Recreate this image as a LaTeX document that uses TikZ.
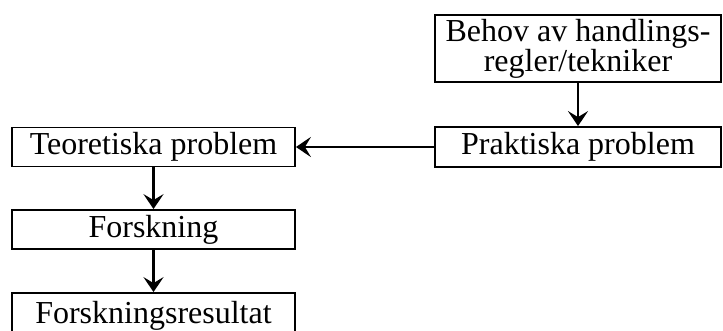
\documentclass[tikz,border=0pt]{standalone}
\usepackage{fontspec}
\setmainfont{Liberation Serif}
\usetikzlibrary{arrows.meta}
\tikzset{
  box/.style={draw, line width=1.8pt, inner sep=0pt, font=\fontsize{32}{29}\selectfont, align=center},
  conn/.style={line width=2.2pt, -{Stealth[length=15pt,width=20pt,inset=6pt]}}
}
\begin{document}
\begin{tikzpicture}[x=1pt,y=-1pt]
\useasboundingbox (0,0) rectangle (723,331);
\clip (0,0) rectangle (723,331);
\node[box, minimum width=286pt, minimum height=67pt] (behov) at (578,48.5) {Behov av handlings-\\regler/tekniker};
\node[box, minimum width=286pt, minimum height=40pt] (prakt) at (578,147) {Praktiska problem};
\node[box, minimum width=283pt, minimum height=39pt] (teor) at (153.5,147) {Teoretiska problem};
\node[box, minimum width=283pt, minimum height=39pt] (forsk) at (153.5,229.5) {Forskning};
\node[box, minimum width=283pt, minimum height=44pt] (res) at (153.5,315) {};
\node[font=\fontsize{32}{29}\selectfont, inner sep=0pt] (restext) at (153.5,316) {Forskningsresultat};
\draw[conn] (behov.south) -- (prakt.north);
\draw[conn] (prakt.west) -- (teor.east);
\draw[conn] (teor.south) -- (forsk.north);
\draw[conn] (forsk.south) -- (res.north);
\end{tikzpicture}
\end{document}
